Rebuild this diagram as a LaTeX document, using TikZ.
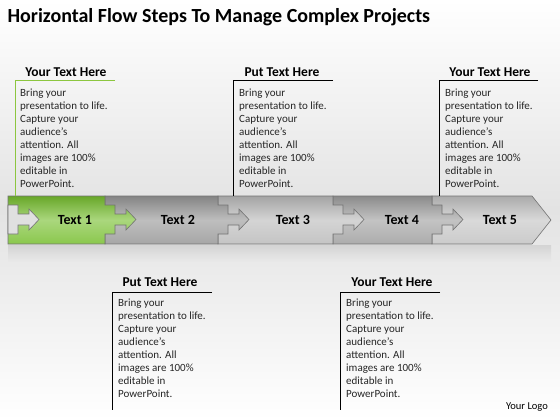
\documentclass[tikz,border=0pt]{standalone}
\usepackage{fontspec}
\setmainfont{Carlito}

\definecolor{pone}{RGB}{118,190,46}
\definecolor{ptwo}{RGB}{150,150,150}
\definecolor{pthree}{RGB}{186,186,186}
\definecolor{pfour}{RGB}{158,158,158}
\definecolor{pfive}{RGB}{194,194,194}
\definecolor{lgreen}{RGB}{140,198,63}

\tikzstyle{head}=[font=\bfseries\fontsize{13.5}{15}\selectfont]
\tikzstyle{body}=[anchor=north west, align=left, inner sep=0pt, text=black!85, font=\fontsize{11}{13.1}\selectfont]
\tikzstyle{callout}=[line width=1pt]
\tikzstyle{piece}=[draw=black!55, line width=0.6pt]
\tikzstyle{label}=[font=\bfseries\fontsize{14}{16}\selectfont]

\newcommand{\puzzle}[3]{%
  \draw[piece, top color=#3!88!black, bottom color=#3!85!white, middle color=#3!62!white]
    (#1,196) -- (#2,196) -- (#2,205) -- (#2+10,205) -- (#2+10,214) -- (#2+21,214) -- (#2+21,209)
    -- (#2+31,219.5) -- (#2+21,230) -- (#2+21,225) -- (#2+10,225) -- (#2+10,234) -- (#2,234)
    -- (#2,244) -- (#1,244) -- cycle;}

\newcommand{\bodytext}{Bring your\\presentation to life.\\Capture your\\audience’s\\attention. All\\images are 100\%\\editable in\\PowerPoint.}

\begin{document}
\begin{tikzpicture}[x=1pt, y=-1pt]
    \useasboundingbox (0,0) rectangle (560,420);
    \shade[top color=white, bottom color=white, middle color=black!11] (0,0) rectangle (560,420);

    \node[anchor=west, font=\bfseries\fontsize{20}{22}\selectfont] (title) at (4,17) {Horizontal Flow Steps To Manage Complex Projects};

    \shade[top color=black!22, bottom color=black!8, opacity=.6] (8,245) rectangle (551,262);

    \draw[piece, top color=pfive!88!black, bottom color=pfive!85!white, middle color=pfive!62!white]
      (432,196) -- (532,196) -- (551,220) -- (532,244) -- (432,244) -- cycle;
    \puzzle{333}{432}{pfour}
    \puzzle{218}{333}{pthree}
    \puzzle{105}{218}{ptwo}
    \puzzle{8}{105}{pone}
    \fill[white!88!black, draw=black!55, line width=0.6pt] (8,205) -- (18,205) -- (18,214) -- (29,214) -- (29,209)
      -- (39,219.5) -- (29,230) -- (29,225) -- (18,225) -- (18,234) -- (8,234) -- cycle;

    \node[label] (t1) at (75,220) {Text 1};
    \node[label] (t2) at (178,220) {Text 2};
    \node[label] (t3) at (293,220) {Text 3};
    \node[label] (t4) at (402,220) {Text 4};
    \node[label] (t5) at (500,220) {Text 5};

    \node[head] (h1) at (66,72) {Your Text Here};
    \node[body] (b1) at (20,88.5) {\bodytext};
    \draw[callout, lgreen] (115,81) -- (15,81) -- (15,196);

    \node[head] (h2) at (282,72) {Put Text Here};
    \node[body] (b2) at (239,88.5) {\bodytext};
    \draw[callout] (333,81) -- (233,81) -- (233,196);

    \node[head] (h3) at (490,72) {Your Text Here};
    \node[body] (b3) at (445,88.5) {\bodytext};
    \draw[callout] (538,81) -- (439,81) -- (439,196);

    \node[head] (h4) at (160,282) {Put Text Here};
    \node[body] (b4) at (118,298.5) {\bodytext};
    \draw[callout] (212,292) -- (112,292) -- (112,410);

    \node[head] (h5) at (392,282) {Your Text Here};
    \node[body] (b5) at (346,298.5) {\bodytext};
    \draw[callout] (440,292) -- (340,292) -- (340,410);

    \node[font=\fontsize{10.5}{12}\selectfont] (logo) at (527,407) {Your Logo};
\end{tikzpicture}
\end{document}
